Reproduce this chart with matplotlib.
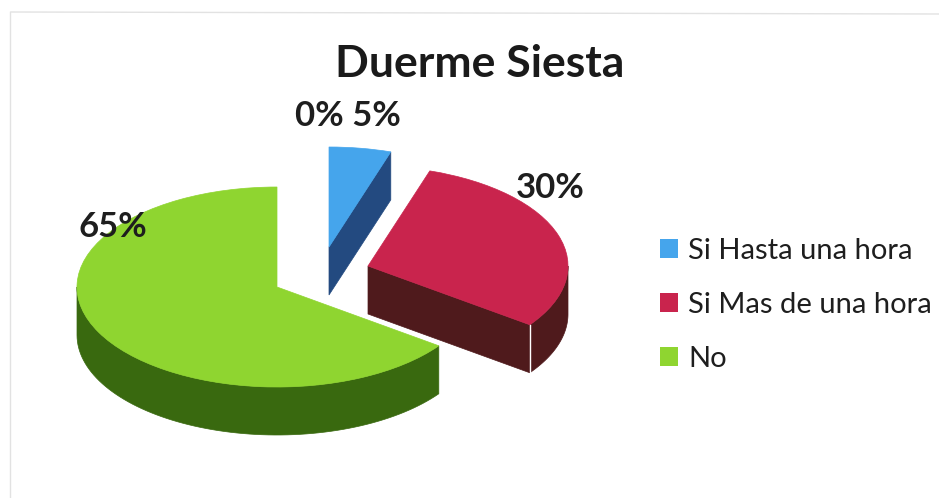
import numpy as np, matplotlib
matplotlib.use('Agg')
import matplotlib.pyplot as plt
from matplotlib.patches import Wedge, Polygon, Rectangle

plt.rcParams['font.family'] = ['Lato', 'DejaVu Sans']

# data
categories = ['Si Hasta una hora', 'Si Mas de una hora', 'No']
values = [5, 30, 65]
pct_labels = ['0% 5%', '30%', '65%']

top_colors = ['#45A5EC', '#C9244D', '#8FD530']
side_colors = ['#234A80', '#4F1A1C', '#39690F']
# slice apex in picture pixels, the slices are pulled apart by hand
apex_px = [(329, 247), (368, 266), (277, 287)]
label_px = [(348, 116), (550, 188), (113, 227)]

W, H = 939, 498
R = 200          # pie radius in px
SQ = 0.5         # vertical squash of the tilted pie
DEPTH = 48       # wall height in px

fig = plt.figure(figsize=(W/100, H/100), dpi=100)
ax = fig.add_axes([0, 0, 1, 1])
ax.set_xlim(0, W); ax.set_ylim(-H/SQ, 0); ax.axis('off')
py = lambda y: -y/SQ
dz = DEPTH/SQ

# faint scan border
ax.plot([10.5, 10.5, W], [py(H), py(12), py(14)], color='#E2E2E2', lw=1)


def arc(cx, cy, a1, a2):
    t = np.radians(np.linspace(a1, a2, 80))
    return np.c_[cx + R*np.cos(t), cy + R*np.sin(t)]


def wall(pts, color, z):
    low = pts[::-1] - [0, dz]
    ax.add_patch(Polygon(np.r_[pts, low], closed=True, fc=color, ec=color, lw=0.5, zorder=z))


# clockwise from 12 o'clock like the spreadsheet does
angles = 90 - np.cumsum([0] + values)*3.6
for i in [2, 0, 1]:
    a2, a1 = angles[i], angles[i+1]
    cx, cy = apex_px[i][0], py(apex_px[i][1])
    z = 2 + i if i < 2 else 1
    # cut faces turned to the viewer
    for a, ok in ((a1, np.cos(np.radians(a1)) > 0.01), (a2, np.cos(np.radians(a2)) < -0.01)):
        if ok:
            wall(np.array([[cx, cy], arc(cx, cy, a, a)[0]]), side_colors[i], z)
    # outer rim, only the front half shows
    lo, hi = a1 % 360, (a1 % 360) + values[i]*3.6
    lo2, hi2 = max(lo, 180), min(hi, 360)
    if hi2 > lo2:
        wall(arc(cx, cy, lo2, hi2), side_colors[i], z)
    ax.add_patch(Wedge((cx, cy), R, a1, a2, fc=top_colors[i], ec=top_colors[i], lw=0.5,
                       zorder=z+0.5, label=categories[i]))

# white seam at the red slice front corner
corner = arc(apex_px[1][0], py(apex_px[1][1]), angles[2], angles[2])[0]
ax.plot([corner[0]]*2, [corner[1], corner[1]-dz], color='white', lw=1, zorder=4)

fig.text(480/W, 1-64/H, 'Duerme Siesta', fontsize=32, weight='bold', color='#1A1A1A',
         ha='center', va='center')
for lab, (x, y) in zip(pct_labels, label_px):
    fig.text(x/W, 1-y/H, lab, fontsize=25, weight='bold', color='#1E1E1E',
             ha='center', va='center', zorder=10)

handles = [Rectangle((0, 0), 1, 1, fc=c, ec='none') for c in top_colors]
fig.legend(handles, categories, loc='center left', bbox_to_anchor=(660/W, 1-305/H),
           frameon=False, fontsize=21, handlelength=0.62, handleheight=0.62,
           handletextpad=0.34, labelspacing=0.96, labelcolor='#1E1E1E', borderpad=0,
           borderaxespad=0)

fig.savefig('out.png', dpi=100, facecolor='white')
